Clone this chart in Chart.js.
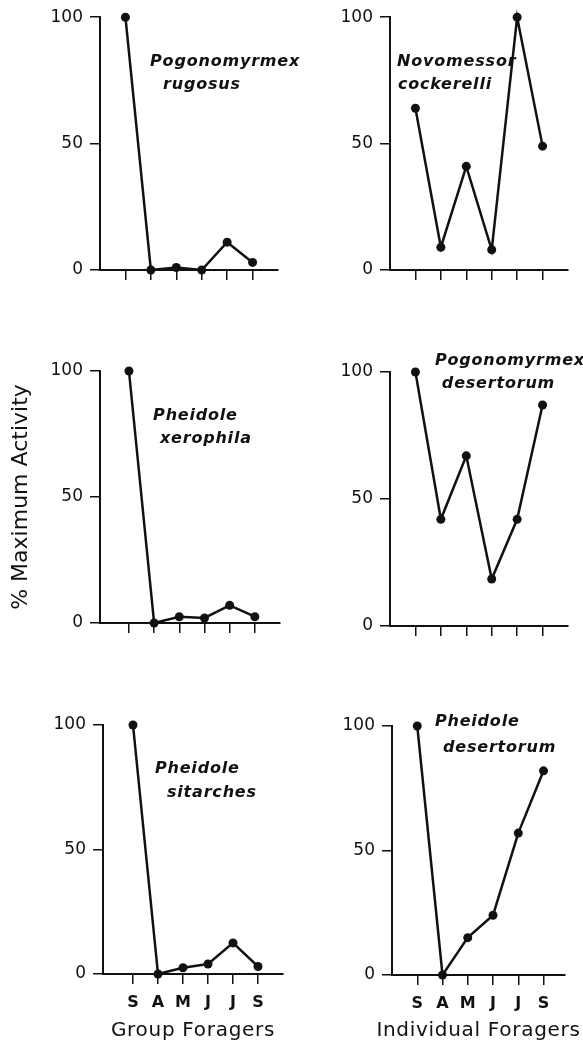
<!DOCTYPE html>
<html>
<head>
<meta charset="utf-8">
<script src="https://cdn.jsdelivr.net/npm/chart.js@4.4.1/dist/chart.umd.min.js"></script>
<style>
  html, body { margin: 0; padding: 0; background: #fff; }
  #page { position: relative; width: 583px; height: 1046px; overflow: hidden; background: #fff; }
  #page canvas { position: absolute; }
</style>
</head>
<body>
<div id="page"></div>
<script>
// --- data ---
const months = ['S', 'A', 'M', 'J', 'J', 'S'];
const yTicks = [0, 50, 100];

// % of maximum activity per month
const pogoRugosus    = [100, 0, 1, 0, 11, 3];
const novoCockerelli = [64, 9, 41, 8, 100, 49];
const pheiXerophila  = [100, 0, 2.5, 2, 7, 2.5];
const pogoDesertorum = [100, 42, 67, 18.5, 42, 87];
const pheiSitarches  = [100, 0, 2.5, 4, 12.5, 3];
const pheiDesertorum = [100, 0, 15, 24, 57, 82];

const groupTitle = 'Group Foragers';
const indivTitle = 'Individual Foragers';
const yTitle = '% Maximum Activity';

// --- layout of the six panels (pixels on the page) ---
const panels = [
  { values: pogoRugosus, name: ['Pogonomyrmex', 'rugosus'], namePos: [[1.97, 82.2], [2.48, 73.1]],
    box: { cl: 0, cr: 310, ct: 0, cb: 300, left: 100, right: 278, top: 17, bottom: 270, xMin: 0, xMax: 7 } },
  { values: novoCockerelli, name: ['Novomessor', 'cockerelli'], namePos: [[0.28, 82.2], [0.31, 73.1]],
    box: { cl: 290, cr: 583, ct: 0, cb: 300, left: 390, right: 568, top: 17, bottom: 270, xMin: 0, xMax: 7 } },
  { values: pheiXerophila, name: ['Pheidole', 'xerophila'], namePos: [[1.96, 82.1], [2.23, 73]], yTitle: true,
    box: { cl: 0, cr: 310, ct: 335, cb: 655, left: 100, right: 280, top: 371, bottom: 623, xMin: -0.15, xMax: 7 } },
  { values: pogoDesertorum, name: ['Pogonomyrmex', 'desertorum'], namePos: [[1.77, 104.3], [2.04, 95.3]],
    box: { cl: 290, cr: 583, ct: 335, cb: 655, left: 390, right: 568, top: 372, bottom: 626, xMin: 0, xMax: 7 } },
  { values: pheiSitarches, name: ['Pheidole', 'sitarches'], namePos: [[1.88, 82.3], [2.36, 72.7]], xTitle: groupTitle,
    box: { cl: 0, cr: 310, ct: 690, cb: 1046, left: 103, right: 283, top: 725, bottom: 974, xMin: -0.2, xMax: 7 } },
  { values: pheiDesertorum, name: ['Pheidole', 'desertorum'], namePos: [[1.70, 101.6], [2.02, 91.2]], xTitle: indivTitle,
    box: { cl: 290, cr: 583, ct: 690, cb: 1046, left: 392, right: 565, top: 726, bottom: 975, xMin: 0, xMax: 6.85 } }
];

const ink = '#111';

// species names inside each panel + the group title under the bottom row
const panelText = {
  id: 'panelText',
  afterDraw(chart, args, opts) {
    const { ctx, chartArea, scales: { x, y } } = chart;
    ctx.save();
    ctx.fillStyle = ink;
    ctx.textBaseline = 'middle';
    ctx.font = 'italic bold 16px "DejaVu Sans"';
    ctx.letterSpacing = '0.8px';
    opts.lines.forEach(l => ctx.fillText(l.text, x.getPixelForValue(l.x), y.getPixelForValue(l.y)));
    if (opts.xTitle) {
      ctx.font = '20px "DejaVu Sans"';
      ctx.letterSpacing = '0.7px';
      ctx.textAlign = 'center';
      ctx.fillText(opts.xTitle, (chartArea.left + chartArea.right) / 2, chart.height - 15);
    }
    ctx.restore();
  }
};

function makePanel(p) {
  const b = p.box;
  const canvas = document.createElement('canvas');
  const w = b.cr - b.cl, h = b.cb - b.ct;
  canvas.width = w; canvas.height = h;
  canvas.style.left = b.cl + 'px';
  canvas.style.top = b.ct + 'px';
  canvas.style.width = w + 'px';
  canvas.style.height = h + 'px';
  document.getElementById('page').appendChild(canvas);

  const yW = b.left - b.cl;
  const xH = b.cb - b.bottom;
  const showMonths = !!p.xTitle;

  new Chart(canvas.getContext('2d'), {
    type: 'line',
    data: {
      datasets: [{
        data: p.values.map((v, i) => ({ x: i + 1, y: v })),
        borderColor: ink,
        borderWidth: 2.5,
        pointRadius: 4.5,
        pointBackgroundColor: ink,
        pointBorderWidth: 0,
        tension: 0,
        clip: false
      }]
    },
    options: {
      responsive: false,
      animation: false,
      devicePixelRatio: 1,
      layout: { padding: { top: b.top - b.ct, right: b.cr - b.right, left: 0, bottom: 0 } },
      plugins: {
        legend: { display: false },
        tooltip: { enabled: false },
        panelText: {
          lines: p.name.map((t, i) => ({ text: t, x: p.namePos[i][0], y: p.namePos[i][1] })),
          xTitle: p.xTitle || null
        }
      },
      scales: {
        x: {
          type: 'linear',
          min: b.xMin,
          max: b.xMax,
          afterBuildTicks: s => { s.ticks = months.map((m, i) => ({ value: i + 1 })); },
          afterFit: s => { s.height = xH; },
          ticks: {
            autoSkip: false,
            maxRotation: 0,
            padding: 9,
            color: ink,
            font: { family: 'DejaVu Sans', size: 16, weight: 'bold' },
            callback: (v) => showMonths ? months[v - 1] : ''
          },
          grid: { drawOnChartArea: false, drawTicks: true, tickLength: 10, color: ink, lineWidth: 1.5 },
          border: { display: true, color: ink, width: 2 }
        },
        y: {
          min: 0,
          max: 100,
          afterBuildTicks: s => { s.ticks = yTicks.map(v => ({ value: v })); },
          afterFit: s => { s.width = yW; },
          ticks: {
            padding: 7,
            color: ink,
            font: { family: 'DejaVu Sans', size: 17 }
          },
          grid: { drawOnChartArea: false, drawTicks: true, tickLength: 10, color: ink, lineWidth: 1.5 },
          border: { display: true, color: ink, width: 2 },
          title: {
            display: !!p.yTitle,
            text: yTitle,
            color: ink,
            font: { family: 'DejaVu Sans', size: 22 },
            padding: { top: 8, bottom: 0 }
          }
        }
      }
    },
    plugins: [panelText]
  });
}

panels.forEach(makePanel);
</script>
</body>
</html>
